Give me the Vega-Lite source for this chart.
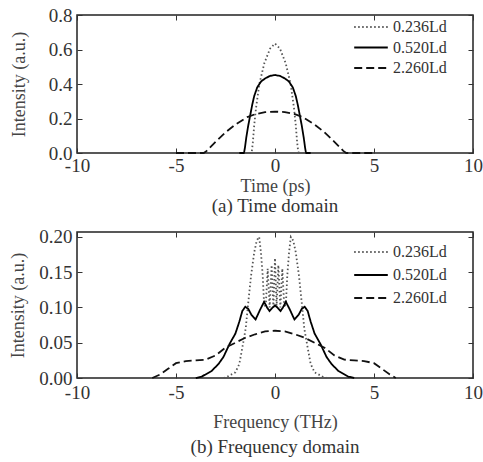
{
  "$schema": "https://vega.github.io/schema/vega-lite/v6.json",
  "padding": {"left": 8, "top": 5, "right": 0, "bottom": 0},
  "spacing": 10,
  "config": {
    "font": "Liberation Serif",
    "view": {"stroke": "#222", "strokeWidth": 1.5},
    "axis": {"domain": false, "grid": false, "tickColor": "#333", "tickSize": -5, "tickWidth": 1, "labelFont": "Liberation Serif", "labelFontSize": 19, "labelColor": "#333", "titleFont": "Liberation Serif", "titleFontSize": 18, "titleFontWeight": "normal", "titleColor": "#444", "labelExpr": "replace(datum.label, '\u2212', '-')"},
    "title": {"font": "Liberation Serif", "fontSize": 19, "fontWeight": "normal", "color": "#333"}
  },
  "datasets": {
    "time": [
      {"x": -1.3, "y": 0, "s": "0.236Ld"}, {"x": -1.2, "y": 0, "s": "0.236Ld"}, {"x": -1.17, "y": 0.01, "s": "0.236Ld"}, {"x": -1.12, "y": 0.06, "s": "0.236Ld"}, {"x": -1.05, "y": 0.16, "s": "0.236Ld"}, {"x": -0.96, "y": 0.26, "s": "0.236Ld"}, {"x": -0.79, "y": 0.4, "s": "0.236Ld"}, {"x": -0.54, "y": 0.52, "s": "0.236Ld"}, {"x": -0.25, "y": 0.605, "s": "0.236Ld"}, {"x": 0, "y": 0.635, "s": "0.236Ld"}, {"x": 0.25, "y": 0.605, "s": "0.236Ld"}, {"x": 0.54, "y": 0.52, "s": "0.236Ld"}, {"x": 0.79, "y": 0.4, "s": "0.236Ld"}, {"x": 0.96, "y": 0.26, "s": "0.236Ld"}, {"x": 1.05, "y": 0.16, "s": "0.236Ld"}, {"x": 1.12, "y": 0.06, "s": "0.236Ld"}, {"x": 1.17, "y": 0.01, "s": "0.236Ld"}, {"x": 1.2, "y": 0, "s": "0.236Ld"}, {"x": 1.3, "y": 0, "s": "0.236Ld"},
      {"x": -1.8, "y": 0, "s": "0.520Ld"}, {"x": -1.58, "y": 0, "s": "0.520Ld"}, {"x": -1.55, "y": 0.01, "s": "0.520Ld"}, {"x": -1.52, "y": 0.03, "s": "0.520Ld"}, {"x": -1.45, "y": 0.09, "s": "0.520Ld"}, {"x": -1.35, "y": 0.16, "s": "0.520Ld"}, {"x": -1.25, "y": 0.22, "s": "0.520Ld"}, {"x": -1.15, "y": 0.28, "s": "0.520Ld"}, {"x": -1.05, "y": 0.33, "s": "0.520Ld"}, {"x": -0.9, "y": 0.38, "s": "0.520Ld"}, {"x": -0.7, "y": 0.415, "s": "0.520Ld"}, {"x": -0.5, "y": 0.432, "s": "0.520Ld"}, {"x": -0.25, "y": 0.447, "s": "0.520Ld"}, {"x": 0, "y": 0.452, "s": "0.520Ld"}, {"x": 0.25, "y": 0.447, "s": "0.520Ld"}, {"x": 0.5, "y": 0.432, "s": "0.520Ld"}, {"x": 0.7, "y": 0.415, "s": "0.520Ld"}, {"x": 0.9, "y": 0.38, "s": "0.520Ld"}, {"x": 1.05, "y": 0.33, "s": "0.520Ld"}, {"x": 1.15, "y": 0.28, "s": "0.520Ld"}, {"x": 1.25, "y": 0.22, "s": "0.520Ld"}, {"x": 1.35, "y": 0.16, "s": "0.520Ld"}, {"x": 1.45, "y": 0.09, "s": "0.520Ld"}, {"x": 1.52, "y": 0.03, "s": "0.520Ld"}, {"x": 1.55, "y": 0.01, "s": "0.520Ld"}, {"x": 1.58, "y": 0, "s": "0.520Ld"}, {"x": 1.8, "y": 0, "s": "0.520Ld"},
      {"x": -5, "y": 0, "s": "2.260Ld"}, {"x": -3.6, "y": 0, "s": "2.260Ld"}, {"x": -3.45, "y": 0.012, "s": "2.260Ld"}, {"x": -3.3, "y": 0.03, "s": "2.260Ld"}, {"x": -3.0, "y": 0.065, "s": "2.260Ld"}, {"x": -2.5, "y": 0.12, "s": "2.260Ld"}, {"x": -2.0, "y": 0.165, "s": "2.260Ld"}, {"x": -1.4, "y": 0.208, "s": "2.260Ld"}, {"x": -1.0, "y": 0.225, "s": "2.260Ld"}, {"x": -0.5, "y": 0.237, "s": "2.260Ld"}, {"x": 0, "y": 0.24, "s": "2.260Ld"}, {"x": 0.5, "y": 0.237, "s": "2.260Ld"}, {"x": 1.0, "y": 0.225, "s": "2.260Ld"}, {"x": 1.4, "y": 0.208, "s": "2.260Ld"}, {"x": 2.0, "y": 0.165, "s": "2.260Ld"}, {"x": 2.5, "y": 0.12, "s": "2.260Ld"}, {"x": 3.0, "y": 0.065, "s": "2.260Ld"}, {"x": 3.3, "y": 0.03, "s": "2.260Ld"}, {"x": 3.45, "y": 0.012, "s": "2.260Ld"}, {"x": 3.6, "y": 0, "s": "2.260Ld"}, {"x": 5, "y": 0, "s": "2.260Ld"}
    ],
    "freq": [
      {"x": -2.6, "y": 0, "s": "0.236Ld"}, {"x": -2.4, "y": 0.002, "s": "0.236Ld"}, {"x": -2.0, "y": 0.008, "s": "0.236Ld"}, {"x": -1.8, "y": 0.02, "s": "0.236Ld"}, {"x": -1.65, "y": 0.043, "s": "0.236Ld"}, {"x": -1.48, "y": 0.07, "s": "0.236Ld"}, {"x": -1.35, "y": 0.107, "s": "0.236Ld"}, {"x": -1.21, "y": 0.145, "s": "0.236Ld"}, {"x": -1.05, "y": 0.178, "s": "0.236Ld"}, {"x": -0.92, "y": 0.195, "s": "0.236Ld"}, {"x": -0.8, "y": 0.2, "s": "0.236Ld"}, {"x": -0.71, "y": 0.178, "s": "0.236Ld"}, {"x": -0.62, "y": 0.145, "s": "0.236Ld"}, {"x": -0.55, "y": 0.105, "s": "0.236Ld"}, {"x": -0.47, "y": 0.1, "s": "0.236Ld"}, {"x": -0.37, "y": 0.155, "s": "0.236Ld"}, {"x": -0.27, "y": 0.1, "s": "0.236Ld"}, {"x": -0.17, "y": 0.16, "s": "0.236Ld"}, {"x": -0.08, "y": 0.1, "s": "0.236Ld"}, {"x": 0, "y": 0.17, "s": "0.236Ld"}, {"x": 0.08, "y": 0.1, "s": "0.236Ld"}, {"x": 0.17, "y": 0.16, "s": "0.236Ld"}, {"x": 0.27, "y": 0.1, "s": "0.236Ld"}, {"x": 0.37, "y": 0.155, "s": "0.236Ld"}, {"x": 0.47, "y": 0.1, "s": "0.236Ld"}, {"x": 0.55, "y": 0.105, "s": "0.236Ld"}, {"x": 0.62, "y": 0.145, "s": "0.236Ld"}, {"x": 0.71, "y": 0.178, "s": "0.236Ld"}, {"x": 0.8, "y": 0.2, "s": "0.236Ld"}, {"x": 0.92, "y": 0.195, "s": "0.236Ld"}, {"x": 1.05, "y": 0.178, "s": "0.236Ld"}, {"x": 1.21, "y": 0.145, "s": "0.236Ld"}, {"x": 1.35, "y": 0.107, "s": "0.236Ld"}, {"x": 1.48, "y": 0.07, "s": "0.236Ld"}, {"x": 1.65, "y": 0.043, "s": "0.236Ld"}, {"x": 1.8, "y": 0.02, "s": "0.236Ld"}, {"x": 2.0, "y": 0.008, "s": "0.236Ld"}, {"x": 2.4, "y": 0.002, "s": "0.236Ld"}, {"x": 2.6, "y": 0, "s": "0.236Ld"},
      {"x": -4.0, "y": 0, "s": "0.520Ld"}, {"x": -3.7, "y": 0.002, "s": "0.520Ld"}, {"x": -3.2, "y": 0.01, "s": "0.520Ld"}, {"x": -2.85, "y": 0.02, "s": "0.520Ld"}, {"x": -2.6, "y": 0.03, "s": "0.520Ld"}, {"x": -2.3, "y": 0.048, "s": "0.520Ld"}, {"x": -2.0, "y": 0.063, "s": "0.520Ld"}, {"x": -1.8, "y": 0.08, "s": "0.520Ld"}, {"x": -1.65, "y": 0.095, "s": "0.520Ld"}, {"x": -1.5, "y": 0.101, "s": "0.520Ld"}, {"x": -1.35, "y": 0.098, "s": "0.520Ld"}, {"x": -1.2, "y": 0.09, "s": "0.520Ld"}, {"x": -0.98, "y": 0.083, "s": "0.520Ld"}, {"x": -0.75, "y": 0.097, "s": "0.520Ld"}, {"x": -0.55, "y": 0.108, "s": "0.520Ld"}, {"x": -0.4, "y": 0.1, "s": "0.520Ld"}, {"x": -0.28, "y": 0.095, "s": "0.520Ld"}, {"x": -0.15, "y": 0.099, "s": "0.520Ld"}, {"x": 0, "y": 0.103, "s": "0.520Ld"}, {"x": 0.15, "y": 0.099, "s": "0.520Ld"}, {"x": 0.28, "y": 0.095, "s": "0.520Ld"}, {"x": 0.4, "y": 0.1, "s": "0.520Ld"}, {"x": 0.55, "y": 0.108, "s": "0.520Ld"}, {"x": 0.75, "y": 0.097, "s": "0.520Ld"}, {"x": 0.98, "y": 0.083, "s": "0.520Ld"}, {"x": 1.2, "y": 0.09, "s": "0.520Ld"}, {"x": 1.35, "y": 0.098, "s": "0.520Ld"}, {"x": 1.5, "y": 0.101, "s": "0.520Ld"}, {"x": 1.65, "y": 0.095, "s": "0.520Ld"}, {"x": 1.8, "y": 0.08, "s": "0.520Ld"}, {"x": 2.0, "y": 0.063, "s": "0.520Ld"}, {"x": 2.3, "y": 0.048, "s": "0.520Ld"}, {"x": 2.6, "y": 0.03, "s": "0.520Ld"}, {"x": 2.85, "y": 0.02, "s": "0.520Ld"}, {"x": 3.2, "y": 0.01, "s": "0.520Ld"}, {"x": 3.7, "y": 0.002, "s": "0.520Ld"}, {"x": 4.0, "y": 0, "s": "0.520Ld"},
      {"x": -6.2, "y": 0, "s": "2.260Ld"}, {"x": -5.8, "y": 0.005, "s": "2.260Ld"}, {"x": -5.4, "y": 0.013, "s": "2.260Ld"}, {"x": -5.0, "y": 0.021, "s": "2.260Ld"}, {"x": -4.5, "y": 0.024, "s": "2.260Ld"}, {"x": -4.0, "y": 0.025, "s": "2.260Ld"}, {"x": -3.5, "y": 0.026, "s": "2.260Ld"}, {"x": -3.0, "y": 0.032, "s": "2.260Ld"}, {"x": -2.5, "y": 0.043, "s": "2.260Ld"}, {"x": -2.0, "y": 0.05, "s": "2.260Ld"}, {"x": -1.5, "y": 0.057, "s": "2.260Ld"}, {"x": -1.0, "y": 0.062, "s": "2.260Ld"}, {"x": -0.5, "y": 0.066, "s": "2.260Ld"}, {"x": 0, "y": 0.067, "s": "2.260Ld"}, {"x": 0.5, "y": 0.066, "s": "2.260Ld"}, {"x": 1.0, "y": 0.062, "s": "2.260Ld"}, {"x": 1.5, "y": 0.057, "s": "2.260Ld"}, {"x": 2.0, "y": 0.05, "s": "2.260Ld"}, {"x": 2.5, "y": 0.043, "s": "2.260Ld"}, {"x": 3.0, "y": 0.032, "s": "2.260Ld"}, {"x": 3.5, "y": 0.026, "s": "2.260Ld"}, {"x": 4.0, "y": 0.025, "s": "2.260Ld"}, {"x": 4.5, "y": 0.024, "s": "2.260Ld"}, {"x": 5.0, "y": 0.021, "s": "2.260Ld"}, {"x": 5.4, "y": 0.013, "s": "2.260Ld"}, {"x": 5.8, "y": 0.005, "s": "2.260Ld"}, {"x": 6.1, "y": 0, "s": "2.260Ld"}
    ]
  },
  "vconcat": [
    {
      "width": 396,
      "height": 138,
      "data": {"name": "time"},
      "title": {"text": "(a) Time domain", "orient": "bottom", "offset": 2},
      "layer": [
        {
          "mark": {"type": "line", "strokeWidth": 1.8, "strokeCap": "butt"},
          "encoding": {
            "x": {"field": "x", "type": "quantitative", "scale": {"domain": [-10, 10], "nice": false, "zero": false}, "axis": {"values": [-10, -5, 0, 5, 10], "title": "Time (ps)", "labelFlush": false, "labelOverlap": false, "labelPadding": 8, "titlePadding": 2}},
            "y": {"field": "y", "type": "quantitative", "scale": {"domain": [0, 0.8], "nice": false}, "axis": {"values": [0, 0.2, 0.4, 0.6, 0.8], "format": ".1f", "title": "Intensity (a.u.)", "labelPadding": 10, "labelOverlap": false, "titleX": -58, "titleY": 69, "titleAngle": 270, "titleAlign": "center", "titleBaseline": "middle"}},
            "strokeDash": {"field": "s", "type": "nominal", "scale": {"domain": ["0.236Ld", "0.520Ld", "2.260Ld"], "range": [[1.5, 2.5], [1, 0], [8, 4]]}, "legend": {"title": null, "orient": "none", "legendX": 286, "legendY": 4, "padding": 0, "symbolType": "M-2.8,0H2.8", "symbolSize": 144, "symbolStrokeWidth": 2, "labelOffset": 14, "rowPadding": 4.5, "labelFont": "Liberation Serif", "labelFontSize": 16, "labelColor": "#333"}},
            "color": {"field": "s", "type": "nominal", "scale": {"domain": ["0.236Ld", "0.520Ld", "2.260Ld"], "range": ["#555", "#000", "#111"]}, "legend": {"title": null, "orient": "none", "legendX": 286, "legendY": 4, "padding": 0, "symbolType": "M-2.8,0H2.8", "symbolSize": 144, "symbolStrokeWidth": 2, "labelOffset": 14, "rowPadding": 4.5, "labelFont": "Liberation Serif", "labelFontSize": 16, "labelColor": "#333"}}
          }
        },
        {
          "mark": {"type": "line", "strokeOpacity": 0},
          "encoding": {
            "x": {"field": "x", "type": "quantitative", "axis": {"orient": "top", "values": [-10, -5, 0, 5, 10], "labels": false, "title": null}},
            "y": {"field": "y", "type": "quantitative", "axis": {"orient": "right", "values": [0, 0.2, 0.4, 0.6, 0.8], "labels": false, "title": null}},
            "detail": {"field": "s", "type": "nominal"}
          }
        }
      ],
      "resolve": {"axis": {"x": "independent", "y": "independent"}}
    },
    {
      "width": 396,
      "height": 146,
      "data": {"name": "freq"},
      "title": {"text": "(b) Frequency domain", "orient": "bottom", "offset": 7},
      "layer": [
        {
          "mark": {"type": "line", "strokeWidth": 1.8, "strokeCap": "butt"},
          "encoding": {
            "x": {"field": "x", "type": "quantitative", "scale": {"domain": [-10, 10], "nice": false, "zero": false}, "axis": {"values": [-10, -5, 0, 5, 10], "title": "Frequency (THz)", "labelFlush": false, "labelOverlap": false, "labelPadding": 10, "titlePadding": 11}},
            "y": {"field": "y", "type": "quantitative", "scale": {"domain": [0, 0.207], "nice": false}, "axis": {"values": [0, 0.05, 0.1, 0.15, 0.2], "format": ".2f", "title": "Intensity (a.u.)", "labelPadding": 10, "labelOverlap": false, "titleX": -59, "titleY": 73, "titleAngle": 270, "titleAlign": "center", "titleBaseline": "middle"}},
            "strokeDash": {"field": "s", "type": "nominal", "scale": {"domain": ["0.236Ld", "0.520Ld", "2.260Ld"], "range": [[1.5, 2.5], [1, 0], [8, 4]]}, "legend": {"title": null, "orient": "none", "legendX": 286, "legendY": 12, "padding": 0, "symbolType": "M-2.8,0H2.8", "symbolSize": 144, "symbolStrokeWidth": 2, "labelOffset": 14, "rowPadding": 7, "labelFont": "Liberation Serif", "labelFontSize": 16, "labelColor": "#333"}},
            "color": {"field": "s", "type": "nominal", "scale": {"domain": ["0.236Ld", "0.520Ld", "2.260Ld"], "range": ["#555", "#000", "#111"]}, "legend": {"title": null, "orient": "none", "legendX": 286, "legendY": 12, "padding": 0, "symbolType": "M-2.8,0H2.8", "symbolSize": 144, "symbolStrokeWidth": 2, "labelOffset": 14, "rowPadding": 7, "labelFont": "Liberation Serif", "labelFontSize": 16, "labelColor": "#333"}}
          }
        },
        {
          "mark": {"type": "line", "strokeOpacity": 0},
          "encoding": {
            "x": {"field": "x", "type": "quantitative", "axis": {"orient": "top", "values": [-10, -5, 0, 5, 10], "labels": false, "title": null}},
            "y": {"field": "y", "type": "quantitative", "axis": {"orient": "right", "values": [0, 0.05, 0.1, 0.15, 0.2], "labels": false, "title": null}},
            "detail": {"field": "s", "type": "nominal"}
          }
        }
      ],
      "resolve": {"axis": {"x": "independent", "y": "independent"}}
    }
  ],
  "resolve": {"scale": {"strokeDash": "independent", "color": "independent"}, "legend": {"strokeDash": "independent", "color": "independent"}}
}
